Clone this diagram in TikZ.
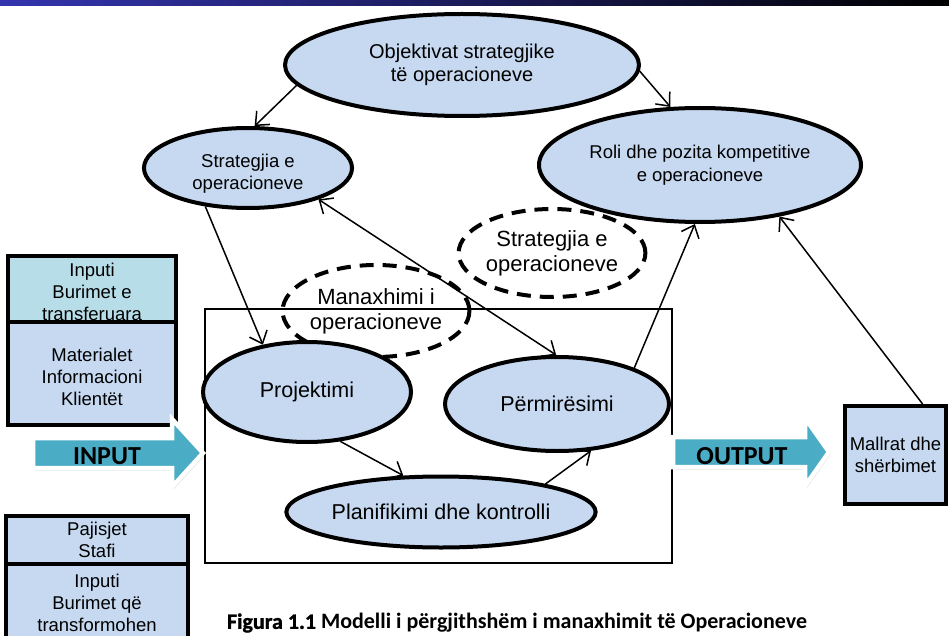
\documentclass[tikz,border=0pt]{standalone}
\usepackage{fontspec}
\setmainfont{Liberation Sans}
\newfontfamily\capfont{Carlito}
\newfontfamily\capheavy{Carlito}[BoldFeatures={FakeBold=1.2}]
\usetikzlibrary{arrows.meta,shapes.geometric,shadows}
\definecolor{ellfill}{HTML}{C6D9F1}
\definecolor{tealfill}{HTML}{B7DEE8}
\definecolor{arrfill}{HTML}{4BACC6}
\definecolor{barblue}{RGB}{52,52,175}
\tikzset{tipb/.tip={Straight Barb[length=11pt,width=19pt,line width=1.5pt]}}
\begin{document}
\begin{tikzpicture}[x=1pt,y=-1pt,
  ell/.style={ellipse,draw,line width=4pt,fill=ellfill,inner sep=0pt,align=center},
  dell/.style={ellipse,draw,line width=4pt,dash pattern=on 14pt off 9pt,inner sep=0pt,align=center},
  smalltxt/.style={font=\fontsize{18.5}{22.5}\selectfont},
  toptxt/.style={font=\fontsize{20}{22.5}\selectfont},
  largetxt/.style={font=\fontsize{21.5}{24}\selectfont},
  dashtxt/.style={font=\fontsize{22}{25}\selectfont},
  conn/.style={line width=1.5pt,-{tipb}},
  dconn/.style={line width=1.5pt,{tipb}-{tipb}},
  boxnode/.style={draw,line width=4pt,align=center,inner sep=0pt,font=\fontsize{18.5}{22}\selectfont},
  bigarrow/.style={fill=arrfill,draw=white,line width=4.5pt,line join=miter,drop shadow={opacity=0.3,shadow xshift=1.5pt,shadow yshift=-2.5pt}},
  arrowtxt/.style={font=\capfont\bfseries\fontsize{26}{28}\selectfont},
]
\useasboundingbox (0,0) rectangle (949,636);
% top bar
\shade[left color=barblue,right color=black] (0,0) rectangle (949,6);
% frame
\node[draw,line width=1.3pt,minimum width=467pt,minimum height=254pt,inner sep=0pt] (frame) at (438.5,436) {};
% ellipses
\node[ell,toptxt,minimum width=354pt,minimum height=102pt] (top) at (462,65) {Objektivat strategjike\\të operacioneve};
\node[ell,smalltxt,minimum width=208pt,minimum height=80pt] (strat) at (248,168) {\rule{0pt}{25pt}Strategjia e\\operacioneve};
\node[ell,smalltxt,minimum width=322pt,minimum height=114pt] (roli) at (700,165) {Roli dhe pozita kompetitive\\e operacioneve};
\node[dell,dashtxt,minimum width=184pt,minimum height=88pt] (dstrat) at (552,253) {Strategjia e\\operacioneve};
\node[dell,dashtxt,minimum width=178pt,minimum height=92pt] (dman) at (376,311) {Manaxhimi i\\operacioneve};
\node[ell,largetxt,minimum width=208pt,minimum height=100pt] (proj) at (307,392) {Projektimi};
\node[ell,largetxt,minimum width=224pt,minimum height=94pt] (perm) at (557,404) {Përmirësimi};
\node[ell,largetxt,minimum width=283pt,minimum height=71pt] (plan) at (441,512) {Planifikimi dhe kontrolli};
% boxes
\node[boxnode,fill=tealfill,minimum width=168pt,minimum height=66pt] (inb1) at (92,289) {\rule{0pt}{20pt}Inputi\\Burimet e\\transferuara};
\node[boxnode,fill=ellfill,minimum width=168pt,minimum height=103pt] (inb2) at (92,373.5) {\rule{0pt}{21pt}Materialet\\Informacioni\\Klientët};
\node[boxnode,fill=ellfill,minimum width=182pt,minimum height=48pt] (inb3) at (97,540) {Pajisjet\\Stafi};
\node[boxnode,fill=ellfill,minimum width=182pt,minimum height=78pt] (inb4) at (97,603) {Inputi\\Burimet që\\transformohen};
\node[boxnode,fill=ellfill,minimum width=101pt,minimum height=98pt] (mall) at (895.5,455) {Mallrat dhe\\shërbimet};
% big arrows
\path[bigarrow] (33,438) -- (172,438) -- (172,419) -- (203,453) -- (172,487) -- (172,468) -- (33,468) -- cycle;
\node[arrowtxt] (input) at (107,456) {INPUT};
\path[bigarrow] (673,437) -- (805,437) -- (805,418) -- (829,452) -- (805,486) -- (805,467) -- (673,467) -- cycle;
\node[arrowtxt] (output) at (742,456) {OUTPUT};
% connectors
\draw[conn] (top.187) -- (strat.81);
\draw[conn] (top.358) -- (roli.117);
\draw[conn] (strat.222) -- (proj.133);
\draw[dconn] (strat.336) -- (perm.91);
\draw[conn] (proj.304) -- (plan.136);
\draw[conn] (plan.15) -- (perm.306);
\draw[conn] (perm.25) -- (roli.265);
\draw[conn] (mall.62) -- (roli.327);
% caption
\node[font=\capfont\bfseries\fontsize{22}{24}\selectfont] (cap) at (517,623) {{\capheavy\bfseries Figura 1.1} Modelli i përgjithshëm i manaxhimit të Operacioneve};
\end{tikzpicture}
\end{document}
